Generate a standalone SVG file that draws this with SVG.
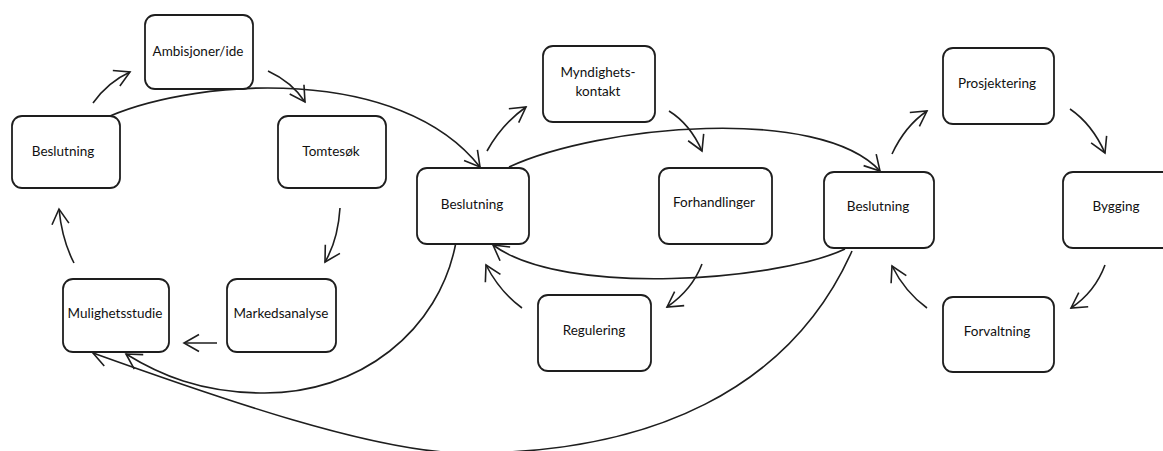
<svg xmlns="http://www.w3.org/2000/svg" width="1163" height="451" viewBox="0 0 1163 451">
  <style>
    .box { fill: #ffffff; stroke: #1e1e1e; stroke-width: 1.8; }
    .lbl { font-family: Lato, "Liberation Sans", sans-serif; font-size: 13.5px; fill: #111111; text-anchor: middle; }
    .con { fill: none; stroke: #1e1e1e; stroke-width: 1.6; marker-end: url(#arr); }
  </style>
  <defs>
    <marker id="arr" viewBox="-18 -10 20 20" refX="0" refY="0" markerWidth="20" markerHeight="20" markerUnits="userSpaceOnUse" orient="auto">
      <path d="M-15,-8.5 L0,0 L-15,8.5" fill="none" stroke="#1e1e1e" stroke-width="1.6" stroke-linejoin="miter"/>
    </marker>
  </defs>
  <rect width="1163" height="451" fill="#ffffff"/>

  <!-- connectors -->
  <g id="connectors">
    <!-- first cycle -->
    <path class="con" d="M93,103 Q108,82 130,72"/>
    <path class="con" d="M268,71 Q292,82 305,102"/>
    <path class="con" d="M340,208 Q338,240 325,262"/>
    <path class="con" d="M217,343 L184,343"/>
    <path class="con" d="M74,263 Q62,240 59,209"/>
    <!-- second cycle -->
    <path class="con" d="M487,151 Q502,124 526,107"/>
    <path class="con" d="M669,111 Q690,124 702,151"/>
    <path class="con" d="M702,264 Q692,290 667,307"/>
    <path class="con" d="M522,308 Q500,292 486,265"/>
    <!-- third cycle -->
    <path class="con" d="M892,154 Q905,126 927,111"/>
    <path class="con" d="M1070,109 Q1092,124 1105,153"/>
    <path class="con" d="M1105,265 Q1095,292 1071,308"/>
    <path class="con" d="M927,308 Q905,292 892,266"/>
    <!-- long links between the decision points -->
    <path class="con" d="M110,116 C200,78 400,65 480,167"/>
    <path class="con" d="M509,167 C600,125 820,105 880,171"/>
    <path class="con" d="M845,249 C780,280 565,298 493,245"/>
    <path class="con" d="M456,242 C440,330 360,395 260,393 C200,392 160,375 126,354"/>
    <path class="con" d="M852,251 C790,390 650,453 470,453 C380,455 210,395 93,353"/>
  </g>

  <!-- nodes -->
  <g id="ambisjoner">
    <rect class="box" x="145" y="15" width="108" height="74" rx="10"/>
    <text class="lbl" x="198" y="56">Ambisjoner/ide</text>
  </g>
  <g id="beslutning-1">
    <rect class="box" x="12" y="116" width="108" height="72" rx="10"/>
    <text class="lbl" x="63" y="156">Beslutning</text>
  </g>
  <g id="tomtesok">
    <rect class="box" x="278" y="116" width="108" height="72" rx="10"/>
    <text class="lbl" x="331" y="156">Tomtesøk</text>
  </g>
  <g id="mulighetsstudie">
    <rect class="box" x="63" y="279" width="106" height="73" rx="10"/>
    <text class="lbl" x="115" y="318">Mulighetsstudie</text>
  </g>
  <g id="markedsanalyse">
    <rect class="box" x="227" y="279" width="109" height="73" rx="10"/>
    <text class="lbl" x="281" y="318">Markedsanalyse</text>
  </g>
  <g id="myndighetskontakt">
    <rect class="box" x="543" y="46" width="112" height="76" rx="10"/>
    <text class="lbl" x="598" y="77">Myndighets-</text>
    <text class="lbl" x="598" y="96">kontakt</text>
  </g>
  <g id="beslutning-2">
    <rect class="box" x="417" y="168" width="112" height="76" rx="10"/>
    <text class="lbl" x="472" y="209">Beslutning</text>
  </g>
  <g id="forhandlinger">
    <rect class="box" x="659" y="168" width="113" height="76" rx="10"/>
    <text class="lbl" x="714" y="207">Forhandlinger</text>
  </g>
  <g id="regulering">
    <rect class="box" x="538" y="295" width="113" height="76" rx="10"/>
    <text class="lbl" x="594" y="335">Regulering</text>
  </g>
  <g id="prosjektering">
    <rect class="box" x="943" y="48" width="111" height="76" rx="10"/>
    <text class="lbl" x="997" y="88">Prosjektering</text>
  </g>
  <g id="beslutning-3">
    <rect class="box" x="824" y="172" width="110" height="76" rx="10"/>
    <text class="lbl" x="878" y="211">Beslutning</text>
  </g>
  <g id="bygging">
    <rect class="box" x="1063" y="172" width="110" height="76" rx="10"/>
    <text class="lbl" x="1116" y="211">Bygging</text>
  </g>
  <g id="forvaltning">
    <rect class="box" x="943" y="297" width="111" height="75" rx="10"/>
    <text class="lbl" x="997" y="336">Forvaltning</text>
  </g>
</svg>
